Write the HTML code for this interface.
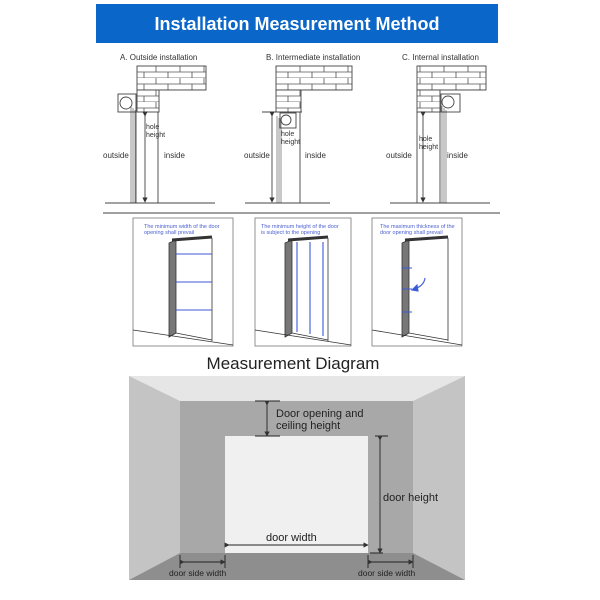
<!DOCTYPE html>
<html><head><meta charset="utf-8"><style>
html,body{margin:0;padding:0;background:#fff;}
svg{display:block;font-family:"Liberation Sans",sans-serif;}
</style></head><body>
<svg width="600" height="600" viewBox="0 0 600 600" xmlns="http://www.w3.org/2000/svg">
<defs>
<pattern id="brick" x="0" y="66" width="24" height="12" patternUnits="userSpaceOnUse">
<rect width="24" height="12" fill="#fff"/>
<path d="M0 6H24M0 12H24M12 0V6M0 6V12M24 6V12" stroke="#555" stroke-width="0.8" fill="none"/>
</pattern>
<marker id="ar" markerWidth="6" markerHeight="6" refX="3" refY="3" orient="auto"><path d="M0,0L6,3L0,6z" fill="#333"/></marker>
</defs>
<rect x="96" y="4" width="402" height="39" fill="#0a66c8"/>
<text x="297" y="30" font-size="18" font-weight="bold" fill="#fff" text-anchor="middle">Installation Measurement Method</text>

<g font-size="8" fill="#333" stroke="none">
<text x="120" y="60">A. Outside installation</text>
<text x="266" y="60">B. Intermediate installation</text>
<text x="402" y="60">C. Internal installation</text>
</g>
<g stroke="#444" stroke-width="0.9" fill="url(#brick)">
<rect x="137" y="66" width="69" height="24"/><rect x="137" y="90" width="22" height="22"/>
<rect x="276" y="66" width="76" height="24"/><rect x="276" y="90" width="25" height="22"/>
<rect x="417" y="66" width="69" height="24"/><rect x="417" y="90" width="23" height="22"/>
</g>
<g stroke="#444" stroke-width="0.9" fill="none">
<rect x="118" y="94" width="18" height="18"/><circle cx="126" cy="103" r="6"/>
<path d="M136 112V203M158 112V203M105 203H215"/>
<path d="M131 106V203M133 108V203M135 110V203" stroke="#222" stroke-width="0.5"/>
<line x1="145" y1="114" x2="145" y2="200" marker-start="url(#ar)" marker-end="url(#ar)"/>
<path d="M262 112H302"/><rect x="280" y="113" width="16" height="15"/><circle cx="286" cy="120" r="5"/>
<path d="M300 112V203M245 203H330"/>
<path d="M277 116V203M279 118V203M281 120V203" stroke="#222" stroke-width="0.5"/>
<line x1="272" y1="114" x2="272" y2="200" marker-start="url(#ar)" marker-end="url(#ar)"/>
<rect x="441" y="94" width="19" height="18"/><circle cx="448" cy="102" r="6"/>
<path d="M417 112V203M440 112V203M390 203H490"/>
<path d="M442 106V203M444 108V203M446 110V203" stroke="#222" stroke-width="0.5"/>
<line x1="423" y1="114" x2="423" y2="200" marker-start="url(#ar)" marker-end="url(#ar)"/>
<path d="M103 213H500" stroke="#666" stroke-width="1.3"/>
</g>
<g font-size="7" fill="#333">
<text x="146" y="129">hole</text><text x="146" y="137">height</text>
<text x="281" y="136">hole</text><text x="281" y="144">height</text>
<text x="419" y="141">hole</text><text x="419" y="149">height</text>
</g>
<g font-size="8" fill="#333">
<text x="103" y="158">outside</text><text x="164" y="158">inside</text>
<text x="244" y="158">outside</text><text x="305" y="158">inside</text>
<text x="386" y="158">outside</text><text x="447" y="158">inside</text>
</g>

<g stroke="#777" stroke-width="0.8" fill="#fff">
<rect x="133" y="218" width="100" height="128"/>
<rect x="255" y="218" width="96" height="128"/>
<rect x="372" y="218" width="90" height="128"/>
</g>
<g font-size="5.5" fill="#4a5fd0">
<text x="144" y="228">The minimum width of the door</text><text x="144" y="234">opening shall prevail</text>
<text x="261" y="228">The minimum height of the door</text><text x="261" y="234">is subject to the opening</text>
<text x="380" y="228">The maximum thickness of the</text><text x="380" y="234">door opening shall prevail</text>
</g>
<g stroke="#333" stroke-width="0.8">
<polygon points="169,243 176,240 176,333 169,337" fill="#777"/>
<path d="M172 240L212 237" stroke="#333" stroke-width="3"/>
<path d="M212 238V341M176 333L212 340M133 330L233 345" fill="none"/>
<polygon points="285,243 292,240 292,333 285,337" fill="#777"/>
<path d="M288 240L328 237" stroke="#333" stroke-width="3"/>
<path d="M328 238V341M292 333L328 340M255 330L351 345" fill="none"/>
<polygon points="402,243 409,240 409,333 402,337" fill="#777"/>
<path d="M405 240L448 237" stroke="#333" stroke-width="3"/>
<path d="M448 238V341M409 333L448 340M372 330L462 345" fill="none"/>
</g>
<g stroke="#3b5bd9" stroke-width="1.1" fill="#3b5bd9">
<path d="M176 254H212M176 282H212M176 310H212M297 242V332M310 242V334M323 242V336M402 268H412M402 289H412M402 312H412" fill="none"/>
<path d="M425 278Q424 286 414 289" fill="none"/>
<polygon points="412,290 417,285 418,291"/>
</g>

<text x="293" y="369" font-size="17" fill="#222" text-anchor="middle">Measurement Diagram</text>

<rect x="129" y="376" width="336" height="204" fill="#e6e6e6"/>
<polygon points="129,376 180,401 180,553 129,580" fill="#c4c4c4"/>
<polygon points="465,376 413,401 413,553 465,580" fill="#c4c4c4"/>
<rect x="180" y="401" width="233" height="152" fill="#a8a8a8"/>
<polygon points="180,553 413,553 465,580 129,580" fill="#8e8e8e"/>
<rect x="225" y="436" width="143" height="117" fill="#f0f0f0"/>
<g stroke="#222" stroke-width="0.9" fill="none">
<path d="M255 401H280M255 436H280M375 436H388M370 553H383"/>
<line x1="267" y1="403" x2="267" y2="434" marker-start="url(#ar)" marker-end="url(#ar)"/>
<line x1="380" y1="438" x2="380" y2="551" marker-start="url(#ar)" marker-end="url(#ar)"/>
<line x1="227" y1="545" x2="366" y2="545" marker-start="url(#ar)" marker-end="url(#ar)"/>
<path d="M180 555V568M225 555V568M368 555V568M413 555V568"/>
<line x1="182" y1="562" x2="223" y2="562" marker-start="url(#ar)" marker-end="url(#ar)"/>
<line x1="370" y1="562" x2="411" y2="562" marker-start="url(#ar)" marker-end="url(#ar)"/>
</g>
<g fill="#222">
<text x="276" y="417" font-size="11">Door opening and</text>
<text x="276" y="429" font-size="11">ceiling height</text>
<text x="383" y="501" font-size="11">door height</text>
<text x="266" y="541" font-size="11">door width</text>
<text x="169" y="576" font-size="8.5">door side width</text>
<text x="358" y="576" font-size="8.5">door side width</text>
</g>
</svg>
</body></html>
